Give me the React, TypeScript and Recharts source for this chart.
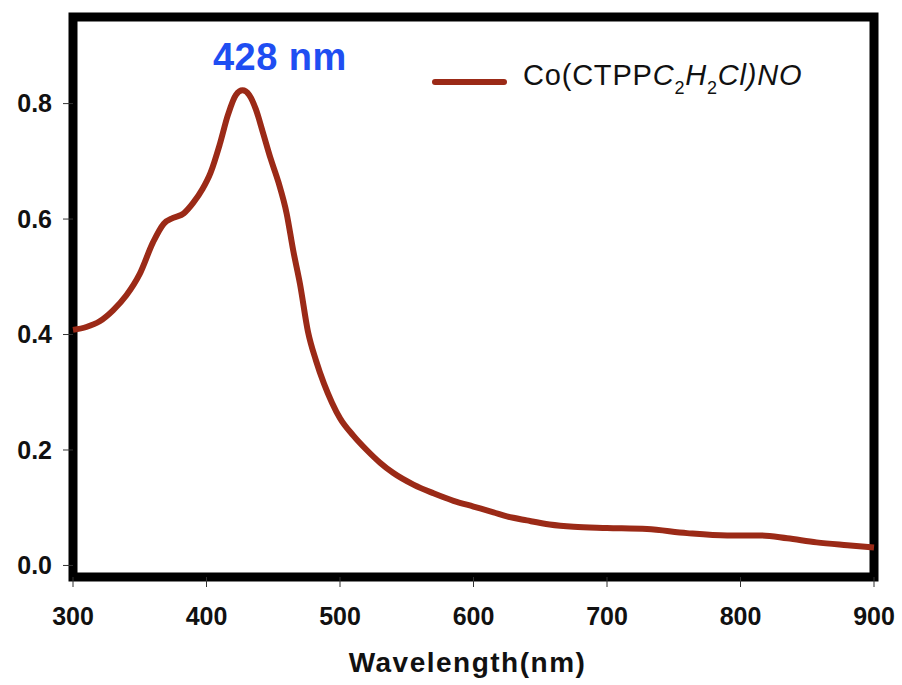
import React from 'react';
import { LineChart, Line, XAxis, YAxis, ReferenceArea, ReferenceDot, Legend, Label } from 'recharts';

// UV-vis spectrum
const wavelengths = [
  300, 310, 320, 330, 340, 350, 360, 368, 375, 383, 390, 397, 403, 410, 416, 422, 427, 432, 437, 442,
  448, 454, 460, 465, 470, 476, 482, 488, 494, 500, 510, 520, 530, 540, 555, 570, 585, 600, 615, 625,
  640, 657, 675, 700, 730, 760, 790, 815, 835, 857, 880, 900,
];
const absorbance = [
  0.408, 0.413, 0.423, 0.442, 0.468, 0.505, 0.56, 0.592, 0.602, 0.61, 0.628, 0.652, 0.68, 0.73, 0.78, 0.815, 0.823, 0.815, 0.79, 0.752,
  0.705, 0.663, 0.61, 0.545, 0.488, 0.405, 0.355, 0.315, 0.282, 0.255, 0.225, 0.2, 0.178, 0.16, 0.14, 0.125, 0.112, 0.102, 0.092, 0.085,
  0.078, 0.071, 0.067, 0.065, 0.063, 0.056, 0.052, 0.052, 0.047, 0.04, 0.035, 0.031,
];
const xTicks = [300, 400, 500, 600, 700, 800, 900];
const yTicks = [0, 0.2, 0.4, 0.6, 0.8];
const peakWavelength = 428;
const peakLabel = '428 nm';
const seriesName = 'Co(CTPPC2H2Cl)NO';

const data = wavelengths.map((w, i) => ({ wavelength: w, abs: absorbance[i] }));

const lineColor = '#9b2a17';
const font = '"Liberation Sans", Arial, sans-serif';

const subStyle: React.CSSProperties = { fontSize: 18, verticalAlign: -9, fontStyle: 'normal' };

const LegendContent = () => (
  <div style={{ display: 'flex', alignItems: 'center', fontFamily: font, fontSize: 29, color: '#111', letterSpacing: 0.8, whiteSpace: 'nowrap', lineHeight: '34px' }}>
    <div style={{ width: 75, height: 6, borderRadius: 3, background: lineColor, marginRight: 16 }} />
    <span>
      Co(CTPP<i>C</i><span style={subStyle}>2</span><i>H</i><span style={subStyle}>2</span><i>Cl)NO</i>
    </span>
  </div>
);

const PeakLabel = (props: any) => {
  const { viewBox } = props;
  const cx = viewBox.x + viewBox.width / 2;
  return (
    <text x={cx + 36} y={viewBox.y - 20} textAnchor="middle" fontFamily={font} fontWeight="bold" fontSize={38} fill="#1f4ef2" letterSpacing={0.5}>
      {peakLabel}
    </text>
  );
};

export default function App() {
  return (
    <div style={{ position: 'absolute', left: 0, top: 0, width: 902, height: 685, background: '#fff' }}>
      <LineChart width={902} height={685} data={data} margin={{ top: 17, right: 28, bottom: 0, left: 0 }}>
        <XAxis
          dataKey="wavelength"
          type="number"
          domain={[300, 900]}
          ticks={xTicks}
          height={108}
          axisLine={false}
          tickSize={10}
          tickMargin={20}
          tickLine={{ stroke: '#333', strokeWidth: 1 }}
          tick={{ fontFamily: font, fontWeight: 'bold', fontSize: 25, fill: '#111' }}
        >
          <Label
            value="Wavelength(nm)"
            position="insideBottom"
            offset={13}
            dx={-6}
            style={{ fontFamily: font, fontWeight: 'bold', fontSize: 28, fill: '#111', letterSpacing: 1.5 }}
          />
        </XAxis>
        <YAxis
          type="number"
          domain={[-0.02, 0.95]}
          allowDataOverflow
          ticks={yTicks}
          width={73}
          axisLine={false}
          tickSize={10}
          tickMargin={11}
          tickLine={{ stroke: '#333', strokeWidth: 1 }}
          tickFormatter={(v: number) => v.toFixed(1)}
          tick={{ fontFamily: font, fontWeight: 'bold', fontSize: 25, fill: '#111' }}
        />
        <ReferenceArea x1={300} x2={900} y1={-0.02} y2={0.95} fill="none" stroke="#000" strokeWidth={9} ifOverflow="visible" />
        <Legend
          layout="horizontal"
          verticalAlign="middle"
          align="center"
          wrapperStyle={{ position: 'absolute', left: 432, top: 58, width: 420, height: 44 }}
          content={() => <LegendContent />}
        />
        <Line
          type="monotone"
          dataKey="abs"
          name={seriesName}
          stroke={lineColor}
          strokeWidth={6}
          dot={false}
          isAnimationActive={false}
        />
        <ReferenceDot x={peakWavelength} y={0.823} r={0} fill="none" stroke="none" label={<PeakLabel />} />
      </LineChart>
    </div>
  );
}
